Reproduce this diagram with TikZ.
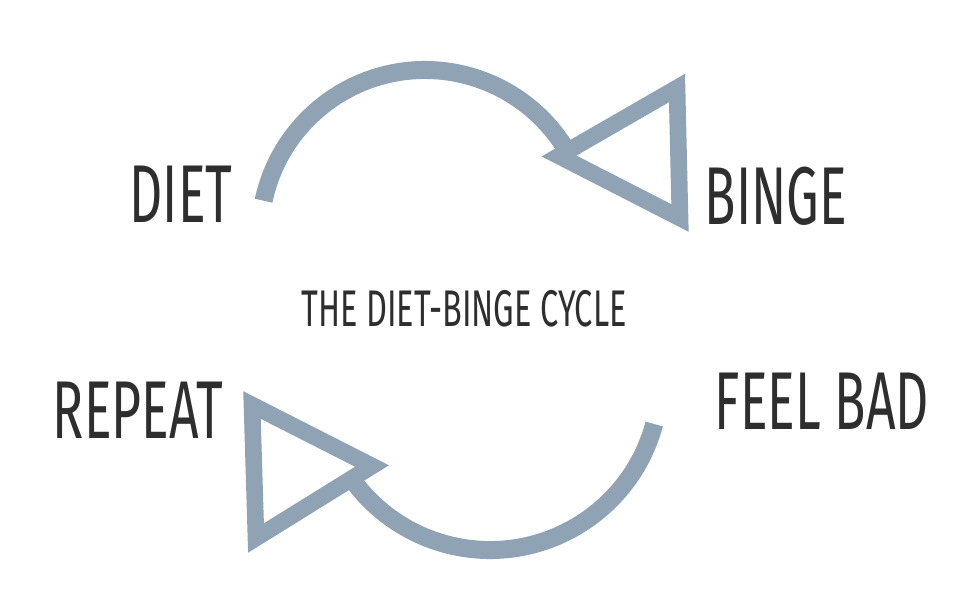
\documentclass[tikz,border=0pt]{standalone}
\usepackage{fontspec}
\setmainfont[FakeStretch=0.63]{Fira Sans}
\definecolor{cyclegray}{HTML}{8FA3B4}
\definecolor{inkgray}{HTML}{2E2E2E}
\tikzset{
  word/.style={text=inkgray, inner sep=0pt, font=\fontsize{70}{70}\selectfont},
  title/.style={text=inkgray, inner sep=0pt, font=\fontsize{44}{44}\selectfont},
  band/.style={draw=cyclegray, line width=0.54cm},
  tip/.style={draw=cyclegray, fill=white, line width=0.5cm, line join=miter}
}
\begin{document}
\begin{tikzpicture}[x=0.03cm,y=-0.03cm]
  \useasboundingbox (0,0) rectangle (974,616);

  % upper arc and its open arrowhead
  \coordinate (c1) at (425,235);
  \draw[band] (c1) ++(-168:165) arc[start angle=-168,end angle=-30,radius=165];
  \draw[tip] (559,156) -- (677,88) -- (680,218) -- cycle;

  % lower arc and its open arrowhead
  \coordinate (c2) at (490,380);
  \draw[band] (c2) ++(15:170) arc[start angle=15,end angle=142,radius=170];
  \draw[tip] (372,466) -- (252,405) -- (256,538) -- cycle;

  \node[word] (diet) at (181,194) {DIET};
  \node[word] (binge) at (776,196) {BINGE};
  \node[word] (repeat) at (138,410) {REPEAT};
  \node[word] (feelbad) at (822,401) {FEEL BAD};
  \node[title] (cycle) at (464,309) {THE DIET-BINGE CYCLE};
\end{tikzpicture}
\end{document}
